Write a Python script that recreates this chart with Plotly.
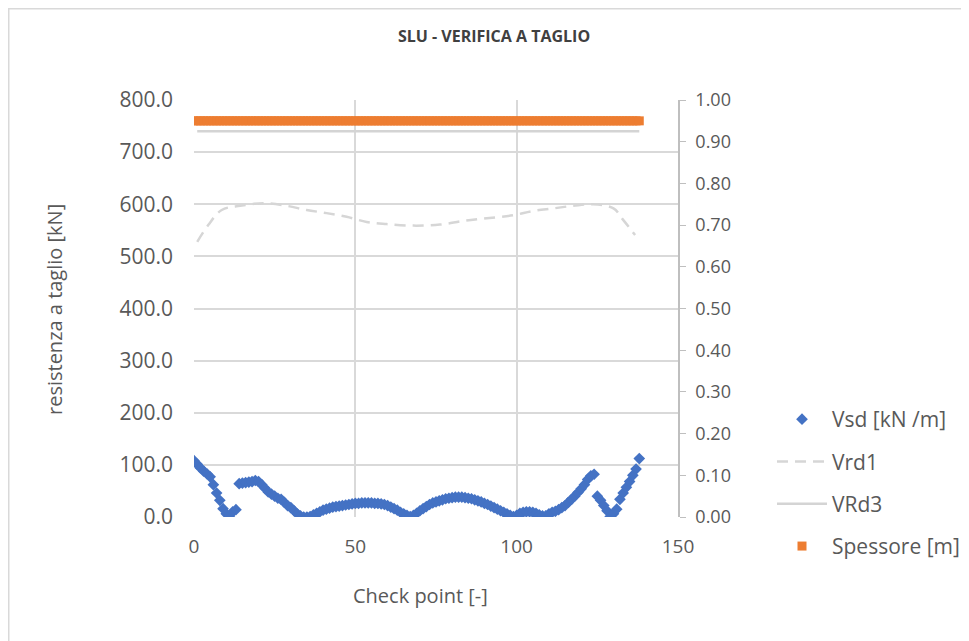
import plotly.graph_objects as go

# Vsd [kN/m] per check point
vsd_x = list(range(0, 139))
vsd_y = [108, 101, 94, 88, 83, 77, 62, 46, 32, 16,
         6, 2, 10, 14, 64, 65, 66, 67, 68, 70,
         68, 62, 55, 48, 44, 40, 36, 34, 28, 22,
         18, 12, 6, 2, 0, 0, 1, 4, 7, 10,
         13, 15, 17, 19, 20, 21, 22, 23, 24, 25,
         26, 26, 27, 27, 27, 27, 26, 26, 25, 24,
         22, 19, 16, 13, 9, 6, 3, 1, 3, 7,
         12, 16, 20, 24, 27, 29, 31, 33, 35, 36,
         37, 38, 38, 38, 37, 36, 35, 33, 31, 29,
         26, 24, 21, 18, 15, 12, 9, 6, 3, 1,
         3, 7, 9, 10, 10, 9, 7, 4, 2, 2,
         6, 9, 11, 14, 18, 22, 28, 34, 40, 47,
         54, 62, 72, 79, 82, 40, 32, 22, 12, 1,
         6, 15, 34, 46, 57, 68, 80, 92, 112]

# Vrd1 [kN] (dashed)
vrd1_x = [1, 4.4, 8.6, 14.3, 21.5, 28.7, 34.9, 41.1, 47.3, 53.5, 59.7, 68,
          76.2, 83.5, 90.7, 99, 105, 111.3, 117.5, 123.7, 130, 133, 136.7]
vrd1_y = [528, 560, 589, 597, 602, 597, 589, 583, 576, 566, 562, 559,
          561, 568, 573, 579, 587, 592, 597, 600, 592, 570, 541]

# VRd3 [kN]
vrd3_x = [1, 138]
vrd3_y = [740, 740]

# Spessore [m] (secondary axis)
spess_x = list(range(0, 139))
spess_y = [0.95] * len(spess_x)

font = "Open Sans, Lato, sans-serif"
grid = "#d9d9d9"
txt = "#595959"

fig = go.Figure()

fig.add_trace(go.Scatter(
    x=vsd_x, y=vsd_y, mode="markers", name="Vsd [kN /m]",
    marker=dict(symbol="diamond", size=9, color="#4472C4"),
    legendgroup="a"))
fig.add_trace(go.Scatter(
    x=vrd1_x, y=vrd1_y, mode="lines", name="Vrd1", line_shape="spline",
    line=dict(color="#d6d6d6", width=2.5, dash="11px,7px"),
    legendgroup="b"))
fig.add_trace(go.Scatter(
    x=vrd3_x, y=vrd3_y, mode="lines", name="VRd3",
    line=dict(color="#d4d4d4", width=2.5),
    legendgroup="c"))
fig.add_trace(go.Scatter(
    x=spess_x, y=spess_y, mode="markers", name="Spessore [m]", yaxis="y2",
    marker=dict(symbol="square", size=9, color="#ED7D31"),
    legendgroup="d"))

# chart area border (top and left visible)
fig.add_shape(type="rect", xref="paper", yref="paper",
              x0=(0.75 - 186) / 484, x1=(990 - 186) / 484,
              y0=(509 - 680) / 417, y1=(509 - 0.75) / 417,
              line=dict(color="#d9d9d9", width=1.5), layer="below")

# axis titles
fig.add_annotation(text="Check point [-]", xref="paper", yref="paper",
                   x=(412 - 186) / 484, y=(509 - 587) / 417,
                   xanchor="center", yanchor="middle", showarrow=False,
                   font=dict(size=20, color=txt))
fig.add_annotation(text="resistenza a taglio [kN]", xref="paper", yref="paper",
                   x=(46 - 186) / 484, y=(509 - 302) / 417, textangle=-90,
                   xanchor="center", yanchor="middle", showarrow=False,
                   font=dict(size=20, color=txt))

fig.update_layout(
    width=969, height=641,
    margin=dict(l=186, r=299, t=92, b=132),
    paper_bgcolor="white", plot_bgcolor="white",
    font=dict(family=font, color=txt),
    title=dict(text="<b>SLU - VERIFICA A TAGLIO</b>", x=486 / 969, xanchor="center",
               y=1 - 28 / 641, yanchor="middle",
               font=dict(size=16, color="#404040")),
    xaxis=dict(range=[0, 150], dtick=50, showgrid=True, gridcolor=grid, gridwidth=1.5,
               zeroline=False, showline=False, ticks="", ticklabelstandoff=16,
               tickfont=dict(size=19, color=txt)),
    yaxis=dict(range=[0, 800], dtick=100, tickformat=".1f", showgrid=True, gridcolor=grid,
               gridwidth=1.5, zeroline=False, showline=False, ticks="",
               ticklabelstandoff=20, tickfont=dict(size=21, color=txt)),
    yaxis2=dict(range=[0, 1], dtick=0.1, tickformat=".2f", overlaying="y", side="right",
                showgrid=False, zeroline=False, showline=True, linecolor="#bfbfbf",
                linewidth=1.5, ticks="outside", ticklen=6, tickcolor="#bfbfbf",
                ticklabelstandoff=6, tickfont=dict(size=18, color=txt)),
    legend=dict(x=(764 - 186) / 484, xanchor="left", y=(509 - 391) / 417, yanchor="top",
                font=dict(size=21, color=txt), traceorder="grouped", itemwidth=50,
                tracegroupgap=12, bgcolor="rgba(0,0,0,0)"),
)

fig.write_html("out.html")
